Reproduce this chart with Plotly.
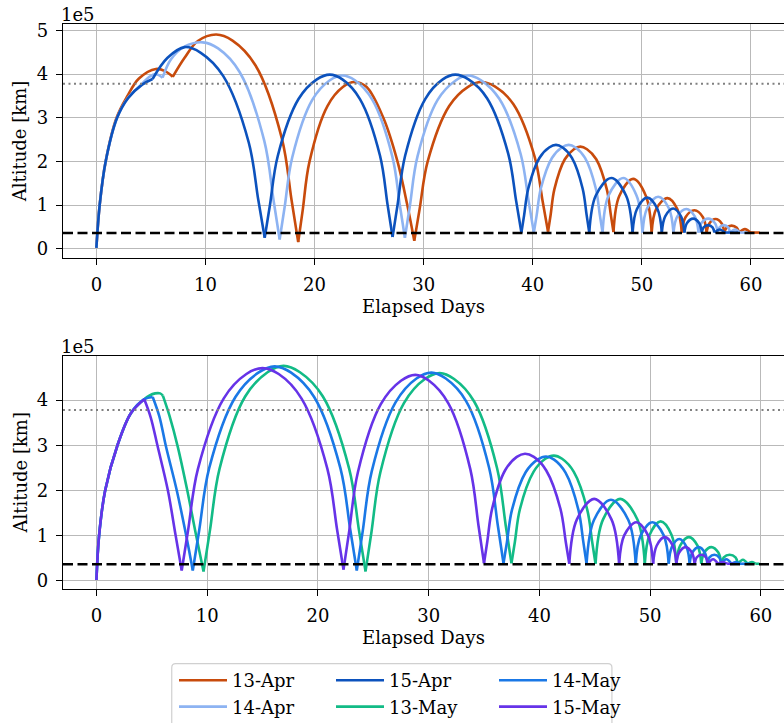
import plotly.graph_objects as go

# ---------------- data (altitude in units of 1e5 km; None separates arcs) ----------------
apr13_day = [0, 0.3, 0.85, 1.85, 2.85, 3.9, 5.46, 6.3, 7.0, None,
             7.0, 8.07, 9.3, 10.98, 12.48, 14.59, 17.0, 17.9, 18.5, None,
             18.5, 18.91, 19.53, 21.18, 22.62, 23.65, 24.75, 26.3, 27.6, 28.5, 29.14, None,
             29.14, 29.63, 30.37, 32.34, 34.07, 35.3, 36.52, 38.23, 40.18, 40.91, 41.4, None,
             41.4, 41.64, 41.99, 42.94, 43.77, 44.36, 44.97, 45.82, 46.79, 47.16, 47.4, None,
             47.4, 47.93, 49.2, 50.37, 50.9, None,
             50.9, 51.31, 52.35, 53.25, 53.66, None,
             53.66, 54.0, 54.82, 55.6, 55.94, None,
             55.94, 56.18, 56.76, 57.32, 57.56, None,
             57.56, 57.76, 58.23, 58.7, 58.9, None,
             58.9, 59.45, 59.95, None, 59.95, 60.8]
apr13_alt = [0.02, 1, 2, 3, 3.5, 3.9, 4.12, 4.07, 3.94, None,
             3.94, 4.37, 4.76, 4.91, 4.77, 4.2, 2.53, 1.1, 0.15, None,
             0.15, 0.88, 1.99, 3.27, 3.71, 3.82, 3.71, 3.0, 2.0, 1.0, 0.18, None,
             0.18, 0.91, 2.0, 3.27, 3.71, 3.82, 3.72, 3.31, 2.1, 1.08, 0.39, None,
             0.39, 0.78, 1.37, 2.05, 2.28, 2.34, 2.28, 2.05, 1.36, 0.77, 0.38, None,
             0.38, 1.21, 1.6, 1.21, 0.38, None,
             0.37, 0.91, 1.16, 0.91, 0.37, None,
             0.37, 0.72, 0.88, 0.72, 0.37, None,
             0.37, 0.58, 0.68, 0.58, 0.37, None,
             0.37, 0.48, 0.53, 0.48, 0.37, None,
             0.37, 0.45, 0.37, None, 0.37, 0.37]

apr14_day = [0, 0.3, 0.85, 1.9, 2.9, 4.2, 4.85, 5.46, 6.07, None,
             6.07, 6.84, 8.07, 9.75, 11.16, 13.13, 15.39, 16.24, 16.8, None,
             16.8, 17.26, 17.95, 19.79, 21.4, 22.55, 23.7, 25.3, 27.13, 27.82, 28.28, None,
             28.28, 28.74, 29.43, 31.28, 32.9, 34.05, 35.26, 36.95, 38.89, 39.62, 40.1, None,
             40.1, 40.36, 40.74, 41.76, 42.66, 43.3, 43.92, 44.79, 45.78, 46.15, 46.4, None,
             46.4, 46.95, 48.3, 49.51, 50.06, None,
             50.06, 50.49, 51.5, 52.47, 52.9, None,
             52.9, 53.25, 54.08, 54.85, 55.2, None,
             55.2, 55.46, 56.08, 56.69, 56.95, None,
             56.95, 57.12, 57.52, 57.91, 58.08, None,
             58.08, 58.55, 59.0, None, 59.0, 59.7]
apr14_alt = [0.02, 1, 2, 3, 3.46, 3.78, 3.94, 4.0, 3.92, None,
             3.92, 4.34, 4.63, 4.73, 4.59, 4.05, 2.47, 1.11, 0.21, None,
             0.21, 0.96, 2.09, 3.41, 3.86, 3.97, 3.86, 3.41, 2.11, 0.99, 0.25, None,
             0.25, 0.99, 2.11, 3.41, 3.85, 3.97, 3.86, 3.43, 2.17, 1.09, 0.37, None,
             0.37, 0.77, 1.38, 2.08, 2.32, 2.38, 2.32, 2.08, 1.38, 0.77, 0.37, None,
             0.37, 1.22, 1.62, 1.22, 0.37, None,
             0.37, 0.93, 1.19, 0.93, 0.37, None,
             0.37, 0.74, 0.91, 0.74, 0.37, None,
             0.37, 0.59, 0.69, 0.59, 0.37, None,
             0.37, 0.49, 0.54, 0.49, 0.37, None,
             0.37, 0.44, 0.37, None, 0.37, 0.37]

apr15_day = [0, 0.3, 0.85, 1.9, 2.9, 4.2, 5.15, None,
             5.15, 6.5, 8.1, 9.57, 11.62, 13.96, 14.84, 15.43, None,
             15.43, 15.91, 16.62, 18.53, 20.21, 21.4, 22.55, 24.16, 26.0, 26.69, 27.15, None,
             27.15, 27.61, 28.3, 30.14, 31.75, 32.9, 34.11, 35.81, 37.75, 38.48, 38.96, None,
             38.96, 39.21, 39.59, 40.61, 41.5, 42.13, 42.74, 43.59, 44.57, 44.94, 45.18, None,
             45.18, 45.78, 47.2, 48.55, 49.15, None,
             49.15, 49.55, 50.5, 51.43, 51.83, None,
             51.83, 52.14, 52.87, 53.59, 53.9, None,
             53.9, 54.14, 54.7, 55.25, 55.49, None,
             55.49, 55.66, 56.07, 56.48, 56.65, None,
             56.65, 57.15, 57.6, None, 57.6, 58.8]
apr15_alt = [0.02, 1, 2, 3, 3.45, 3.76, 3.89, None,
             3.89, 4.37, 4.62, 4.49, 3.96, 2.44, 1.12, 0.25, None,
             0.25, 1.0, 2.12, 3.43, 3.88, 3.99, 3.88, 3.43, 2.13, 1.01, 0.27, None,
             0.27, 1.01, 2.13, 3.43, 3.88, 3.99, 3.88, 3.45, 2.18, 1.09, 0.37, None,
             0.37, 0.77, 1.38, 2.08, 2.32, 2.38, 2.32, 2.08, 1.38, 0.77, 0.37, None,
             0.37, 1.22, 1.62, 1.22, 0.37, None,
             0.37, 0.91, 1.17, 0.91, 0.37, None,
             0.37, 0.74, 0.92, 0.74, 0.37, None,
             0.37, 0.59, 0.69, 0.59, 0.37, None,
             0.37, 0.49, 0.54, 0.49, 0.37, None,
             0.37, 0.44, 0.37, None, 0.37, 0.37]

may13_day = [0, 0.24, 0.79, 1.9, 3.11, 4.32, 4.77, 5.3, 5.75, 6.0, None,
             6.0, 6.6, 7.34, 8.2, 9.0, 9.67, None,
             9.67, 10.25, 11.12, 13.43, 15.45, 16.9, 18.38, 20.45, 22.82, 23.71, 24.3, None,
             24.3, 24.84, 25.64, 27.78, 29.66, 31.0, 32.3, 34.11, 36.18, 36.96, 37.48, None,
             37.48, 37.79, 38.24, 39.47, 40.54, 41.3, 42.05, 43.11, 44.32, 44.77, 45.07, None,
             45.07, 45.74, 47.3, 48.85, 49.52, None,
             49.52, 49.95, 50.95, 51.94, 52.37, None,
             52.37, 52.71, 53.5, 54.28, 54.62, None,
             54.62, 54.89, 55.53, 56.16, 56.43, None,
             56.43, 56.65, 57.18, 57.71, 57.93, None,
             57.93, 58.38, 58.8, None, 58.8, 59.2, 59.5, None, 59.5, 59.88]
may13_alt = [0.01, 1, 2, 3, 3.71, 4.02, 4.1, 4.15, 4.15, 4.1, None,
             4.1, 3.65, 2.97, 2.0, 1.0, 0.2, None,
             0.2, 1.11, 2.48, 4.08, 4.62, 4.76, 4.62, 4.08, 2.48, 1.11, 0.2, None,
             0.2, 1.08, 2.4, 3.94, 4.47, 4.6, 4.47, 3.97, 2.49, 1.22, 0.38, None,
             0.38, 0.86, 1.58, 2.41, 2.7, 2.77, 2.7, 2.41, 1.57, 0.85, 0.37, None,
             0.37, 1.35, 1.81, 1.35, 0.37, None,
             0.37, 1.01, 1.31, 1.01, 0.37, None,
             0.37, 0.77, 0.96, 0.77, 0.37, None,
             0.37, 0.62, 0.74, 0.62, 0.37, None,
             0.37, 0.51, 0.57, 0.51, 0.37, None,
             0.37, 0.46, 0.37, None, 0.37, 0.41, 0.37, None, 0.37, 0.37]

may14_day = [0, 0.24, 0.79, 1.9, 3.11, 4.32, 5.08, None,
             5.08, 5.68, 6.28, 7.25, 8.1, 8.7, None,
             8.7, 9.29, 10.18, 12.55, 14.62, 16.1, 17.58, 19.66, 22.03, 22.92, 23.51, None,
             23.51, 24.05, 24.86, 27.01, 28.9, 30.25, 31.55, 33.38, 35.46, 36.24, 36.76, None,
             36.76, 37.07, 37.53, 38.76, 39.83, 40.6, 41.33, 42.36, 43.53, 43.97, 44.26, None,
             44.26, 44.93, 46.46, 48.03, 48.7, None,
             48.7, 49.15, 50.2, 51.23, 51.68, None,
             51.68, 51.96, 52.63, 53.29, 53.57, None,
             53.57, 53.81, 54.4, 54.93, 55.17, None,
             55.17, 55.36, 55.8, 56.24, 56.43, None,
             56.43, 56.88, 57.35, None, 57.35, 57.75, 58.1, None, 58.1, 59.0]
may14_alt = [0.01, 1, 2, 3, 3.71, 4.02, 4.07, None,
             4.07, 3.64, 2.97, 2.0, 1.0, 0.22, None,
             0.22, 1.13, 2.49, 4.07, 4.61, 4.75, 4.61, 4.07, 2.49, 1.13, 0.22, None,
             0.22, 1.1, 2.42, 3.95, 4.48, 4.61, 4.48, 3.98, 2.5, 1.23, 0.38, None,
             0.38, 0.85, 1.57, 2.4, 2.68, 2.75, 2.68, 2.39, 1.56, 0.85, 0.37, None,
             0.37, 1.34, 1.79, 1.34, 0.37, None,
             0.37, 1.0, 1.29, 1.0, 0.37, None,
             0.37, 0.74, 0.92, 0.74, 0.37, None,
             0.37, 0.62, 0.74, 0.62, 0.37, None,
             0.37, 0.51, 0.57, 0.51, 0.37, None,
             0.37, 0.47, 0.37, None, 0.37, 0.41, 0.37, None, 0.37, 0.37]

may15_day = [0, 0.24, 0.79, 1.9, 3.11, 4.32, None,
             4.32, 4.9, 5.53, 6.44, 7.15, 7.7, None,
             7.7, 8.28, 9.16, 11.5, 13.54, 15.0, 16.46, 18.51, 20.85, 21.73, 22.31, None,
             22.31, 22.83, 23.61, 25.68, 27.5, 28.8, 30.04, 31.78, 33.76, 34.5, 35.0, None,
             35.0, 35.3, 35.74, 36.92, 37.96, 38.7, 39.5, 40.62, 41.9, 42.38, 42.7, None,
             42.7, 43.38, 44.95, 46.52, 47.2, None,
             47.2, 47.66, 48.75, 49.81, 50.27, None,
             50.27, 50.59, 51.32, 52.05, 52.37, None,
             52.37, 52.62, 53.2, 53.77, 54.02, None,
             54.02, 54.2, 54.62, 55.05, 55.23, None,
             55.23, 55.68, 56.13, None, 56.13, 56.55, 56.95, None, 56.95, 57.65]
may15_alt = [0.01, 1, 2, 3, 3.71, 4.02, None,
             4.02, 3.62, 2.97, 2.01, 1.0, 0.22, None,
             0.22, 1.12, 2.47, 4.04, 4.58, 4.71, 4.58, 4.04, 2.48, 1.13, 0.24, None,
             0.24, 1.1, 2.4, 3.91, 4.43, 4.56, 4.43, 3.93, 2.47, 1.22, 0.38, None,
             0.38, 0.87, 1.6, 2.45, 2.74, 2.81, 2.74, 2.44, 1.59, 0.86, 0.37, None,
             0.37, 1.35, 1.81, 1.35, 0.37, None,
             0.37, 1.0, 1.29, 1.0, 0.37, None,
             0.37, 0.77, 0.96, 0.77, 0.37, None,
             0.37, 0.62, 0.74, 0.62, 0.37, None,
             0.37, 0.51, 0.57, 0.51, 0.37, None,
             0.37, 0.47, 0.37, None, 0.37, 0.41, 0.37, None, 0.37, 0.37]

MOON_ALT = 3.78   # 1e5 km, dotted reference
GEO_ALT = 0.36    # 1e5 km, dashed reference
x_ticks = [0, 10, 20, 30, 40, 50, 60]
y_ticks_top = [0, 1, 2, 3, 4, 5]
y_ticks_bot = [0, 1, 2, 3, 4]

# name, x, y, colour, subplot, legend column
series = [
    ("13-Apr", apr13_day, apr13_alt, "#c84b0c", 1, "legend"),
    ("14-Apr", apr14_day, apr14_alt, "#8db3f2", 1, "legend"),
    ("15-Apr", apr15_day, apr15_alt, "#0c52bd", 1, "legend2"),
    ("13-May", may13_day, may13_alt, "#12bb86", 2, "legend2"),
    ("14-May", may14_day, may14_alt, "#1a78e6", 2, "legend3"),
    ("15-May", may15_day, may15_alt, "#6633e8", 2, "legend3"),
]

W, H = 784, 723
L, T, B = 63.3, 24.0, 723 - 589.3
PH = H - T - B
PW = W - L
FONT = "DejaVu Serif"
FS = 18

fig = go.Figure()
for name, xs, ys, col, sp, lg in series:
    fig.add_trace(go.Scatter(
        x=xs, y=ys, mode="lines", name=name,
        line=dict(color=col, width=2.6, shape="spline", smoothing=1),
        connectgaps=False,
        xaxis="x" if sp == 1 else "x2", yaxis="y" if sp == 1 else "y2",
        legend=lg,
    ))

def ypaper(py):
    return (H - B - py) / PH

def xp(px):
    return (px - L) / PW

axis_common = dict(
    showline=True, linecolor="black", linewidth=1.3,
    ticks="outside", ticklen=6, tickwidth=1.3, tickcolor="black",
    showgrid=True, gridcolor="#b9b9b9", gridwidth=1.3, zeroline=False,
    tickfont=dict(family=FONT, size=FS, color="black"), automargin=False,
)

fig.update_layout(
    width=W, height=H,
    margin=dict(l=L, r=0, t=T, b=B, pad=0, autoexpand=False),
    paper_bgcolor="white", plot_bgcolor="white",
    font=dict(family=FONT, size=FS, color="black"),
    xaxis=dict(domain=[0, 1], anchor="y", range=[-3.06, 63.03], tickvals=x_ticks,
               mirror=True, title=dict(text="Elapsed Days", standoff=6, font=dict(size=FS)),
               ticklabelstandoff=4, **axis_common),
    yaxis=dict(domain=[ypaper(258), 1], anchor="x", range=[-0.21, 5.15], tickvals=y_ticks_top,
               ticklabelstandoff=4, **axis_common),
    xaxis2=dict(domain=[0, 1], anchor="y2", range=[-3.02, 62.09], tickvals=x_ticks,
                mirror=True, title=dict(text="Elapsed Days", standoff=6, font=dict(size=FS)),
                ticklabelstandoff=4, **axis_common),
    yaxis2=dict(domain=[0, ypaper(355.7)], anchor="x2", range=[-0.19, 4.99], tickvals=y_ticks_bot,
                ticklabelstandoff=4, **axis_common),
)

# y-axis titles (rotated text)
for yc in ((24 + 258) / 2, (355.7 + 589.3) / 2):
    fig.add_annotation(text="Altitude [km]", textangle=-90, xref="paper", yref="paper",
                       x=xp(20.6), y=ypaper(yc), xanchor="center", yanchor="middle",
                       showarrow=False, font=dict(family=FONT, size=FS, color="black"))

# reference lines and offset labels
for yref, xref in (("y", "x"), ("y2", "x2")):
    fig.add_shape(type="line", xref=f"{xref} domain", yref=yref, x0=0, x1=1,
                  y0=MOON_ALT, y1=MOON_ALT, line=dict(color="#808080", width=2, dash="2px,3.5px"),
                  layer="above")
    fig.add_shape(type="line", xref=f"{xref} domain", yref=yref, x0=0, x1=1,
                  y0=GEO_ALT, y1=GEO_ALT, line=dict(color="black", width=2.6, dash="10px,4.5px"),
                  layer="above")
    fig.add_annotation(text="1e5", xref=f"{xref} domain", yref=f"{yref} domain", x=0, y=1,
                       xanchor="left", yanchor="bottom", showarrow=False, xshift=-4, yshift=-3,
                       font=dict(family=FONT, size=FS, color="black"))

# legends: three columns
leg_common = dict(xref="container", yref="container", xanchor="left", yanchor="top",
                  orientation="v", bgcolor="rgba(0,0,0,0)", borderwidth=0,
                  font=dict(family=FONT, size=FS, color="black"), itemwidth=48,
                  tracegroupgap=0)
top_leg = 1 - 662 / H
fig.update_layout(
    legend=dict(x=174 / W, y=top_leg, **leg_common),
    legend2=dict(x=331 / W, y=top_leg, **leg_common),
    legend3=dict(x=494 / W, y=top_leg, **leg_common),
)

# legend frame (rounded top corners; bottom runs off the page)
x0, x1, yt, yb, r = 172, 612, 664, 740, 4
path = (f"M {xp(x0)},{ypaper(yb)} L {xp(x0)},{ypaper(yt + r)} "
        f"Q {xp(x0)},{ypaper(yt)} {xp(x0 + r)},{ypaper(yt)} "
        f"L {xp(x1 - r)},{ypaper(yt)} Q {xp(x1)},{ypaper(yt)} {xp(x1)},{ypaper(yt + r)} "
        f"L {xp(x1)},{ypaper(yb)}")
fig.add_shape(type="path", xref="paper", yref="paper", path=path,
              line=dict(color="#d0d0d0", width=1.2))

fig.write_html("out.html")
